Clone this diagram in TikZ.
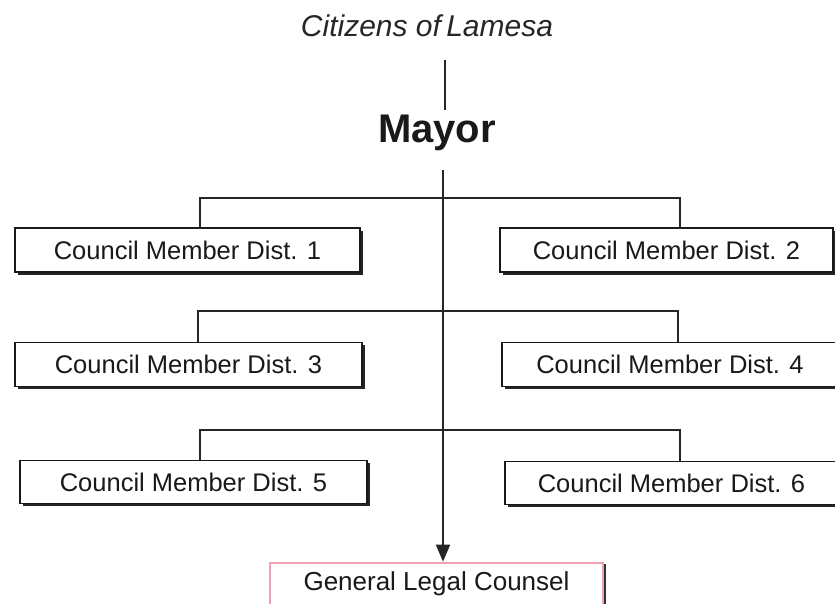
\documentclass[tikz,border=0pt]{standalone}
\usepackage{fontspec}
\setmainfont{Liberation Sans}
\usetikzlibrary{arrows.meta,shadows}
\definecolor{pinkb}{HTML}{F2A0B4}
\tikzset{
  cbox/.style={draw=black!90, fill=white, line width=1.5pt, inner sep=0pt,
    minimum height=44pt, font=\fontsize{25.5}{28}\selectfont, text=black!90,
    drop shadow={shadow xshift=2.5pt, shadow yshift=-2.5pt, opacity=1, fill=black!85}},
  gbox/.style={draw=pinkb, fill=white, line width=2.6pt, inner sep=0pt,
    minimum height=42pt, font=\fontsize{26}{28}\selectfont, text=black!90,
    drop shadow={shadow xshift=2.5pt, shadow yshift=-1pt, opacity=1, fill=black!80}},
  conn/.style={line width=1.6pt, black!85},
}
\begin{document}
\begin{tikzpicture}[x=1pt,y=-1pt]
\useasboundingbox (0,0) rectangle (835,603);
\node[font=\fontsize{30}{32}\selectfont\itshape, text=black!85] (cit) at (427,26) {Citizens of\hspace{-3pt} Lamesa};
\node[font=\fontsize{40}{42}\selectfont\bfseries, text=black!90] (mayor) at (437,133) {Mayor};
\coordinate (ctop) at (445,60);
\coordinate (cbot) at (445,110);
\draw[conn] (ctop) -- (cbot);

\node[cbox, minimum width=345pt] (c1) at (187.5,250) {Council Member Dist. 1};
\node[cbox, minimum width=333pt] (c2) at (666.5,250) {Council Member Dist. 2};
\node[cbox, minimum width=347pt] (c3) at (188.5,364.5) {Council Member Dist. 3};
\node[cbox, minimum width=336pt] (c4) at (670,364.5) {Council Member Dist. 4};
\node[cbox, minimum width=347pt, minimum height=43pt] (c5) at (193.5,482) {Council Member Dist. 5};
\node[cbox, minimum width=333pt, minimum height=43pt] (c6) at (671.5,483) {Council Member Dist. 6};
\node[gbox, minimum width=333pt] (glc) at (436.5,584) {General Legal Counsel};

\coordinate (m0) at (443,170);
\draw[conn, -{Triangle[width=14pt,length=17pt]}] (m0) -- (glc.north -| m0);

\draw[conn] (c1.north -| 200,0) -- (200,198) -- (680,198) -- (c2.north -| 680,0);
\draw[conn] (c3.north -| 198,0) -- (198,311) -- (678,311) -- (c4.north -| 678,0);
\draw[conn] (c5.north -| 200,0) -- (200,430) -- (680,430) -- (c6.north -| 680,0);
\end{tikzpicture}
\end{document}
